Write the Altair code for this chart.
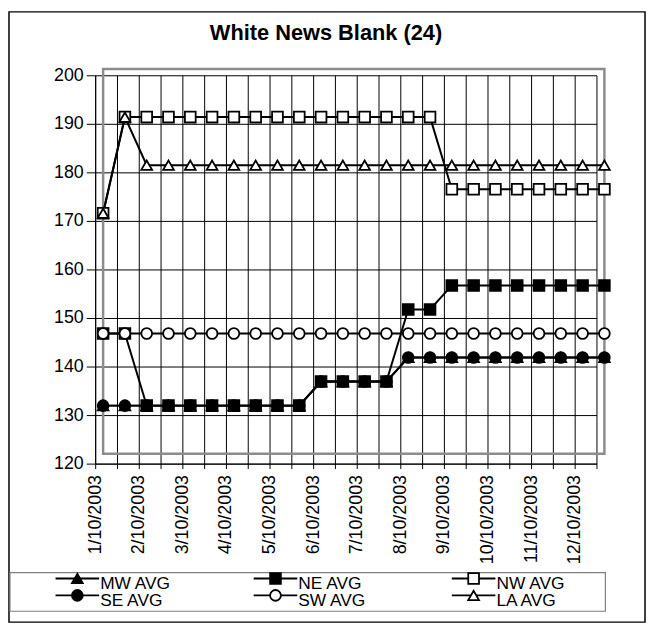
import altair as alt
import pandas as pd

# ---------------- data ----------------
title_text = "White News Blank (24)"
tick_labels = ["1/10/2003", "2/10/2003", "3/10/2003", "4/10/2003", "5/10/2003", "6/10/2003",
               "7/10/2003", "8/10/2003", "9/10/2003", "10/10/2003", "11/10/2003", "12/10/2003"]
point_index = list(range(24))
series_names = ["MW AVG", "NE AVG", "NW AVG", "SE AVG", "SW AVG", "LA AVG"]

mw_avg = [130, 130, 130, 130, 130, 130, 130, 130, 130, 130, 135, 135,
          135, 135, 140, 140, 140, 140, 140, 140, 140, 140, 140, 140]
ne_avg = [145, 145, 130, 130, 130, 130, 130, 130, 130, 130, 135, 135,
          135, 135, 150, 150, 155, 155, 155, 155, 155, 155, 155, 155]
nw_avg = [170, 190, 190, 190, 190, 190, 190, 190, 190, 190, 190, 190,
          190, 190, 190, 190, 175, 175, 175, 175, 175, 175, 175, 175]
se_avg = [130, 130, 130, 130, 130, 130, 130, 130, 130, 130, 135, 135,
          135, 135, 140, 140, 140, 140, 140, 140, 140, 140, 140, 140]
sw_avg = [145, 145, 145, 145, 145, 145, 145, 145, 145, 145, 145, 145,
          145, 145, 145, 145, 145, 145, 145, 145, 145, 145, 145, 145]
la_avg = [170, 190, 180, 180, 180, 180, 180, 180, 180, 180, 180, 180,
          180, 180, 180, 180, 180, 180, 180, 180, 180, 180, 180, 180]

y_ticks = [120, 130, 140, 150, 160, 170, 180, 190, 200]

series_values = [mw_avg, ne_avg, nw_avg, se_avg, sw_avg, la_avg]
rows = []
for name, vals in zip(series_names, series_values):
    for i, v in zip(point_index, vals):
        rows.append({"series": name, "idx": i, "value": v})
df = pd.DataFrame(rows)

legend_df = pd.DataFrame({
    "series": series_names,
    "col": [i % 3 for i in range(len(series_names))],
    "row": [i // 3 for i in range(len(series_names))],
})

# ---------------- style ----------------
FONT = "Liberation Sans"
marker_shapes = ["triangle-up", "square", "square", "circle", "circle", "triangle-up"]
marker_fills = ["black", "black", "white", "black", "white", "white"]
shape_scale = alt.Scale(domain=series_names, range=marker_shapes)
fill_scale = alt.Scale(domain=series_names, range=marker_fills)

label_js = "[" + ",".join(f"'{t}'" for t in tick_labels) + "]"

# ---------------- axis layer (gridlines) ----------------
axis_df = pd.DataFrame({"idx": [0, 23], "value": [120, 200]})
axes = alt.Chart(axis_df).mark_point(opacity=0).encode(
    x=alt.X("idx:Q", title=None,
            scale=alt.Scale(domain=[0, 23], nice=False, zero=False),
            axis=alt.Axis(values=point_index, grid=True, gridColor="black", gridOpacity=1,
                          gridWidth=1, domainColor="black", domainWidth=1,
                          tickColor="black", tickSize=5, tickWidth=1,
                          labelAngle=-90, labelFont=FONT, labelFontSize=18,
                          labelColor="black", labelPadding=6, labelOverlap=False,
                          labelFlush=False,
                          labelExpr=f"datum.value % 2 === 0 ? {label_js}[datum.value / 2] : ''")),
    y=alt.Y("value:Q", title=None,
            scale=alt.Scale(domain=[120, 200], nice=False, zero=False),
            axis=alt.Axis(values=y_ticks, grid=True, gridColor="black", gridOpacity=1,
                          gridWidth=1, domainColor="black", domainWidth=1,
                          tickColor="black", tickSize=9, tickWidth=1,
                          labelFont=FONT, labelFontSize=18, labelColor="black",
                          labelPadding=3, labelFlush=False, labelOverlap=False)),
)

# ---------------- data layer ----------------
xs = alt.Scale(domain=[-0.364, 22.636], nice=False, zero=False)
ys = alt.Scale(domain=[117.94, 198.70], nice=False, zero=False)

box_df = pd.DataFrame({"x0": [0], "x1": [23], "y0": [120], "y1": [200]})
gray_box = alt.Chart(box_df).mark_rect(fillOpacity=0, stroke="#8c8c8c", strokeWidth=2.5).encode(
    x=alt.X("x0:Q", scale=xs, axis=None), x2="x1",
    y=alt.Y("y0:Q", scale=ys, axis=None), y2="y1",
)

lines = alt.Chart(df).mark_line(color="black", strokeWidth=2).encode(
    x=alt.X("idx:Q", scale=xs, axis=None),
    y=alt.Y("value:Q", scale=ys, axis=None),
    detail="series:N",
    order="idx:Q",
)

points = alt.Chart(df).mark_point(filled=True, size=118, stroke="black",
                                  strokeWidth=1.8, opacity=1).encode(
    x=alt.X("idx:Q", scale=xs, axis=None),
    y=alt.Y("value:Q", scale=ys, axis=None),
    shape=alt.Shape("series:N", scale=shape_scale, legend=None),
    fill=alt.Fill("series:N", scale=fill_scale, legend=None),
)

data_layer = alt.layer(gray_box, lines, points)

# ---------------- legend layer ----------------
lx = alt.Scale(domain=[0, 2], range=[-18, 382], nice=False, zero=False)
ly = alt.Scale(domain=[0, 1], range=[508, 525], nice=False, zero=False)

leg_lines = alt.Chart(legend_df).mark_rule(color="black", strokeWidth=2,
                                           xOffset=-22, x2Offset=22).encode(
    x=alt.X("col:Q", scale=lx, axis=None), x2="col:Q",
    y=alt.Y("row:Q", scale=ly, axis=None),
)
leg_marks = alt.Chart(legend_df).mark_point(filled=True, size=118, stroke="black",
                                            strokeWidth=1.8, opacity=1).encode(
    x=alt.X("col:Q", scale=lx, axis=None),
    y=alt.Y("row:Q", scale=ly, axis=None),
    shape=alt.Shape("series:N", scale=shape_scale, legend=None),
    fill=alt.Fill("series:N", scale=fill_scale, legend=None),
)
leg_text = alt.Chart(legend_df).mark_text(align="left", baseline="middle", dx=23, dy=6,
                                          font=FONT, fontSize=17.5, color="black").encode(
    x=alt.X("col:Q", scale=lx, axis=None),
    y=alt.Y("row:Q", scale=ly, axis=None),
    text="series:N",
)
legend_layer = alt.layer(leg_lines, leg_marks, leg_text)

# ---------------- decorations (frame, legend box, title) ----------------
deco_df = pd.DataFrame({"title": [title_text]})
outer_frame = alt.Chart(deco_df).mark_rect(fillOpacity=0, stroke="black", strokeWidth=1.5).encode(
    x=alt.value(-87), x2=alt.value(555), y=alt.value(-64), y2=alt.value(552))
legend_box = alt.Chart(deco_df).mark_rect(fillOpacity=0, stroke="#808080", strokeWidth=1.2).encode(
    x=alt.value(-86), x2=alt.value(515), y=alt.value(502), y2=alt.value(541))
title_mark = alt.Chart(deco_df).mark_text(font=FONT, fontSize=22, fontWeight="bold",
                                          color="black", align="center",
                                          baseline="middle").encode(
    x=alt.value(233), y=alt.value(-43), text="title:N")

chart = alt.layer(outer_frame, legend_box, title_mark, axes, data_layer, legend_layer).resolve_scale(
    x="independent", y="independent"
).properties(
    width=506, height=392,
    autosize=alt.AutoSizeParams(type="none"),
    padding={"left": 88, "top": 65, "right": 50, "bottom": 161},
).configure_view(stroke=None)

chart.save("out.html", embed_options={"renderer": "svg", "actions": False})
